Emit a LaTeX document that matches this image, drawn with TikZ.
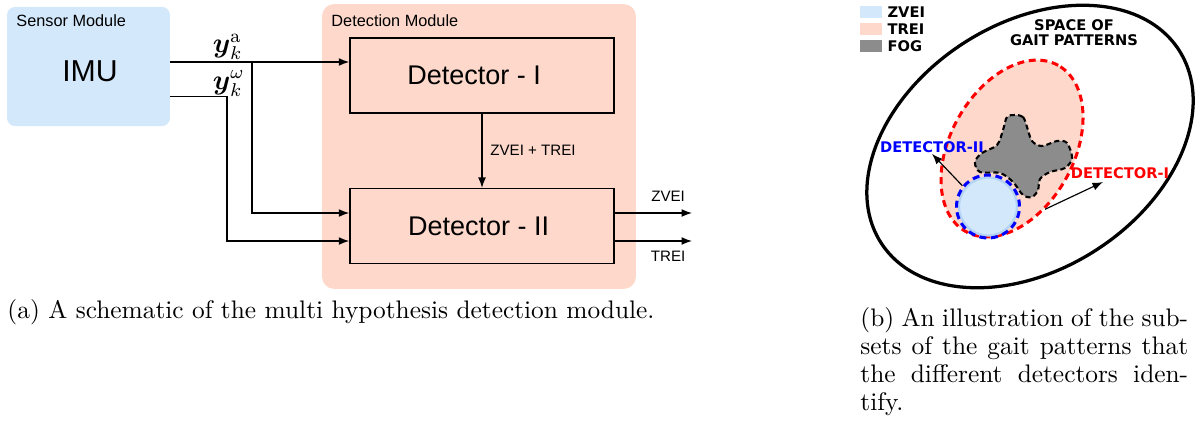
\documentclass[tikz,border=0pt]{standalone}
\usepackage{amsmath}
\usepackage{amssymb}
\usepackage{fontspec}
\newfontfamily\arialfont{Liberation Sans}
\newfontfamily\verdanafont{DejaVu Sans}
\usetikzlibrary{positioning,calc,arrows.meta}
\definecolor{imublue}{HTML}{D4E8FC}
\definecolor{detsalmon}{HTML}{FDD8CB}
\definecolor{foggray}{HTML}{8C8C8C}
\definecolor{zveiedge}{HTML}{B3D4F5}

\begin{document}
\begin{tikzpicture}[x=0.0151cm, y=-0.0151cm, >={Latex[length=4.5pt,width=3.4pt]},
    modulebox/.style={fill=#1, draw=none, inner sep=0pt},
    detbox/.style={draw=black, line width=0.6pt, fill=detsalmon, minimum width=3.99cm, minimum height=1.13cm,
      font=\arialfont\fontsize{11.6}{14}\selectfont},
    sig/.style={black, line width=0.55pt},
    arial/.style={font=\arialfont\fontsize{7}{8.5}\selectfont},
    small/.style={font=\arialfont\fontsize{6.5}{8}\selectfont},
    legend/.style={font=\verdanafont\bfseries\fontsize{6.3}{6.5}\selectfont, inner sep=1pt},
    legsq/.style={minimum width=0.328cm, minimum height=0.186cm, inner sep=0pt},
    redash/.style={draw=red, line width=1.3pt, dash pattern=on 3pt off 2pt},
    bluedash/.style={draw=blue, line width=1.3pt, dash pattern=on 3pt off 2pt},
    sigsym/.style={anchor=base west, inner sep=0, font=\fontsize{11.6}{14}\selectfont}]
    \useasboundingbox (0,0) rectangle (1195,425);

    % left: the two modules
    \node[modulebox=imublue, rounded corners=0.12cm, minimum width=2.46cm, minimum height=1.8cm] (sensor) at (88.5,66.5) {};
    \node[modulebox=detsalmon, rounded corners=0.18cm, minimum width=4.74cm, minimum height=4.3cm] (detmod) at (479,146.5) {};
    \node[arial, anchor=base west, inner sep=0] (senslab) at (16,26) {Sensor Module};
    \node[arial, anchor=base west, inner sep=0] (detlab) at (331,26) {Detection Module};
    \node[font=\arialfont\fontsize{13}{15}\selectfont, anchor=base, inner sep=0] (imu) at (90,81.7) {IMU};

    \node[detbox] (det1) at (482,75.5) {\hspace*{-0.24cm}Detector - I};
    \node[detbox] (det2) at (482,226) {\hspace*{-0.1cm}Detector - II};

    % signals
    \coordinate (acc) at (170,62);
    \coordinate (gyr) at (170,96.5);
    \coordinate (accsplit) at (252,62);
    \coordinate (gyrsplit) at (227,96.5);
    \coordinate (zveiout) at (692,213);
    \coordinate (treiout) at (692,241);
    \draw[sig,->] (acc) -- (acc -| det1.west);
    \draw[sig,->] (accsplit) |- ($(det2.west)+(0,-13)$);
    \draw[sig,->] (gyr) -- (gyrsplit) |- ($(det2.west)+(0,15)$);
    \draw[sig,->] (det1.south) -- node[small, right] {ZVEI + TREI} (det2.north);
    \draw[sig,->] (det2.east |- zveiout) -- node[small, pos=0.69, above=0.17cm, inner sep=0] {ZVEI} (zveiout);
    \draw[sig,->] (det2.east |- treiout) -- node[small, pos=0.69, below=0.15cm, inner sep=0] {TREI} (treiout);

    \node[sigsym] (ya) at (212.5,52.5) {$\boldsymbol{y}_k^{\mathrm{a}}$};
    \node[sigsym] (yw) at (212.5,89) {$\boldsymbol{y}_k^{\omega}$};

    % right: space of gait patterns
    \node[legsq, fill=imublue] (zveisq) at (870.8,12.2) {};
    \node[legsq, fill=detsalmon] (treisq) at (870.8,28.8) {};
    \node[legsq, fill=foggray] (fogsq) at (870.8,45.8) {};
    \node[legend, right=0.04cm of zveisq] {ZVEI};
    \node[legend, right=0.04cm of treisq] {TREI};
    \node[legend, right=0.04cm of fogsq] {FOG};

    \coordinate (space) at (1030,146.5);
    \coordinate (treic) at (1012,148.5);
    \draw[line width=1.4pt, rotate around={33:(space)}] (space) ellipse [x radius=2.68cm, y radius=1.856cm];
    \node[legend, align=center] (title) at (1074,32.5) {SPACE OF\\GAIT PATTERNS};

    \filldraw[fill=detsalmon, redash, rotate around={61:(treic)}] (treic) ellipse [x radius=1.436cm, y radius=0.933cm];
    \filldraw[fill=foggray, draw=black, line width=0.9pt, dash pattern=on 2.2pt off 1.4pt]
      plot[smooth cycle, tension=0.55] coordinates {(1015,115) (1023,117) (1027,127) (1032,141) (1042,146) (1057,141)
        (1067,143) (1072,158) (1065,168) (1050,172) (1040,179) (1038,190) (1032,197) (1023,195) (1013,182)
        (1000,173) (980,172) (975,162) (982,153) (997,145) (1003,130) (1007,117)};
    \fill[imublue, draw=zveiedge, line width=1pt] (988,206.5) circle [radius=0.438cm];
    \node[circle, bluedash, minimum size=0.951cm, inner sep=0] (zvei) at (988,206.5) {};

    \node[legend, text=blue, inner sep=0.5pt] (d2lab) at (932,146.7) {DETECTOR-II};
    \node[legend, text=red, inner sep=0.5pt] (d1lab) at (1120,173) {DETECTOR-I};
    \coordinate (treiedge) at (1045,209.3);
    \coordinate (d1tip) at (1103,182);
    \draw[line width=0.5pt, ->] (zvei.141) -- (d2lab.south);
    \draw[line width=0.5pt, ->] (treiedge) -- (d1tip);

    % captions
    \node[anchor=base west, inner sep=0, font=\fontsize{10.9}{12}\selectfont] (capa) at (7,318.5)
      {(a) A schematic of the multi hypothesis detection module.};
    \node[anchor=north west, inner sep=0, text width=4.95cm, align=justify, font=\fontsize{10.9}{12}\selectfont] (capb) at (860,307.5)
      {(b) An illustration of the sub-\linebreak sets of the gait patterns that\linebreak the different detectors iden-\linebreak tify.};
\end{tikzpicture}
\end{document}
